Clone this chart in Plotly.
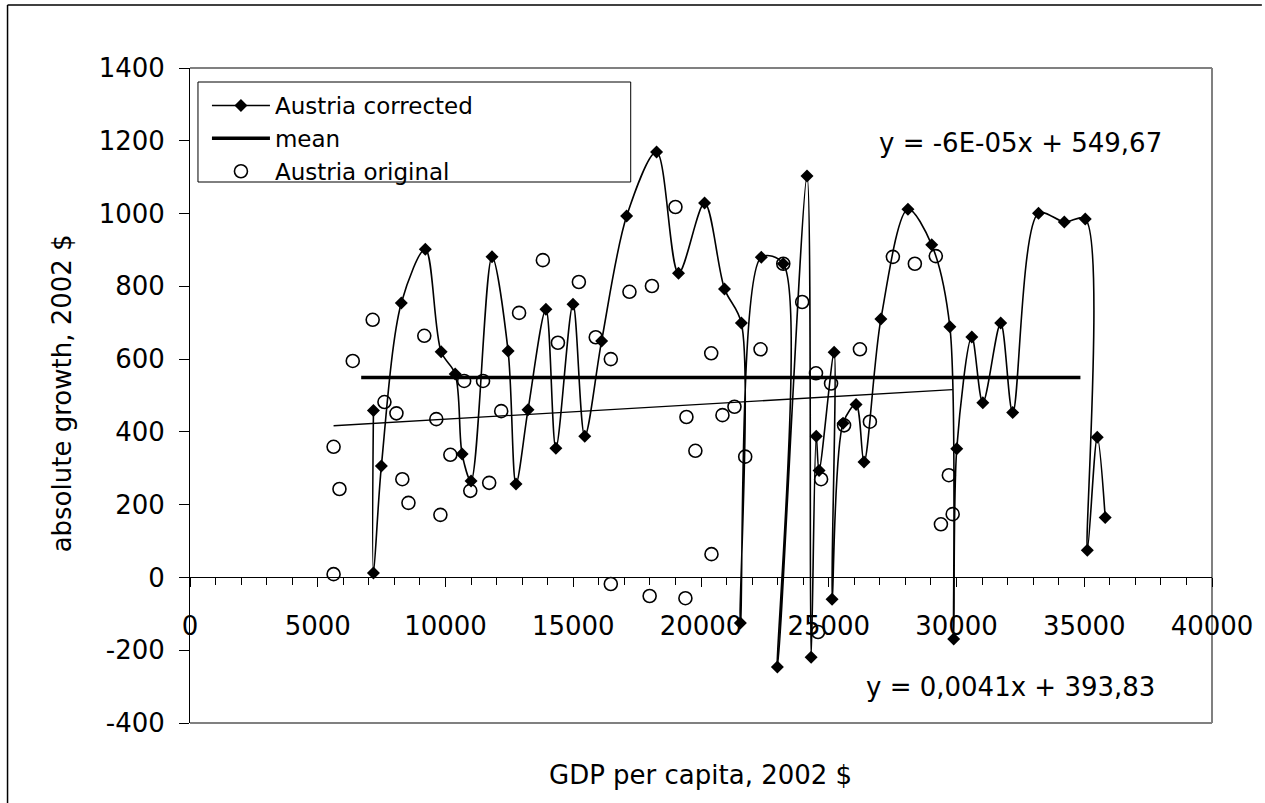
import plotly.graph_objects as go

# ---------------- data ----------------
corr_x = [7180, 7180, 7490, 8270, 9210, 9830, 10380, 10650, 11000, 11820, 12450, 12760,
          13230, 13930, 14320, 14990, 15450, 16110, 17090, 18260, 19120, 20140, 20920,
          21580, 21540, 22360, 23220, 22990, 24150, 24310, 24510, 24620, 25210, 25130,
          25560, 26070, 26380, 27040, 28100, 29030, 29740, 29890, 30010, 30600, 31030,
          31730, 32200, 33210, 34220, 35040, 35120, 35510, 35820]
corr_y = [459, 12, 306, 754, 902, 620, 559, 339, 265, 881, 622, 257,
          461, 737, 355, 751, 388, 650, 993, 1169, 836, 1029, 793,
          699, -125, 880, 862, -246, 1103, -219, 388, 294, 619, -60,
          424, 475, 317, 710, 1012, 914, 689, -169, 354, 661, 480,
          699, 453, 1001, 977, 985, 75, 385, 165]

orig_x = [5620, 5850, 5620, 6370, 7150, 7610, 8080, 8310, 8550, 9170, 9640, 9800,
          10190, 10730, 10970, 11470, 11710, 12180, 12880, 13810, 14400, 15220, 15880,
          16470, 16470, 17200, 17990, 18080, 19000, 19390, 19430, 19780, 20400, 20410,
          20840, 21310, 21730, 22330, 23220, 23960, 24500, 24580, 24700, 25090, 25600,
          26220, 26610, 27510, 28370, 29190, 29390, 29700, 29850]
orig_y = [359, 243, 9, 595, 708, 482, 451, 270, 205, 664, 435, 172,
          337, 540, 238, 540, 260, 457, 727, 872, 645, 812, 660,
          600, -18, 785, -51, 801, 1018, -57, 441, 348, 616, 64,
          446, 469, 332, 627, 862, 757, 561, -150, 270, 533, 418,
          627, 428, 881, 862, 883, 146, 281, 174]

mean_x = [6700, 34850]
mean_y = [549.67, 549.67]

# trend line of the original series, as printed on the chart
trend_slope = 0.0041
trend_intercept = 393.83
trend_x = [min(orig_x), max(orig_x)]
trend_y = [trend_slope * v + trend_intercept for v in trend_x]

x_ticks = [0, 5000, 10000, 15000, 20000, 25000, 30000, 35000, 40000]
x_labels = ["0", "5000", "10000", "15000", "20000", "25000", "30000", "35000", "40000"]
y_ticks = [-400, -200, 0, 200, 400, 600, 800, 1000, 1200, 1400]
y_labels = ["-400", "-200", "0", "200", "400", "600", "800", "1000", "1200", "1400"]

eq_corr = "y = -6E-05x + 549,67"
eq_orig = "y = 0,0041x + 393,83"

x_title = "GDP per capita, 2002 $"
y_title = "absolute growth, 2002 $"

# ---------------- figure ----------------
FONT = "DejaVu Sans"
FS = 26

fig = go.Figure()

fig.add_trace(go.Scatter(
    x=corr_x, y=corr_y, name="Austria corrected", mode="lines+markers",
    line=dict(color="black", width=1.6, shape="spline", smoothing=0.9),
    marker=dict(symbol="diamond", size=10, color="black"),
))
fig.add_trace(go.Scatter(
    x=mean_x, y=mean_y, name="mean", mode="lines",
    line=dict(color="black", width=3.5),
))
fig.add_trace(go.Scatter(
    x=orig_x, y=orig_y, name="Austria original", mode="markers",
    marker=dict(symbol="circle-open", size=13, color="black", line=dict(width=1.6)),
))
fig.add_trace(go.Scatter(
    x=trend_x, y=trend_y, name="Linear (Austria original)", mode="lines",
    line=dict(color="black", width=1.3), showlegend=False,
))

L, R, T, B = 190, 50, 68, 80
W, H = 1265, 803
pw, ph = W - L - R, H - T - B


def px2x(px):
    return (px - L) / pw


def py2y(py):
    return (H - B - py) / ph


fig.update_layout(
    width=W, height=H,
    margin=dict(l=L, r=R, t=T, b=B, pad=0),
    paper_bgcolor="white", plot_bgcolor="white",
    font=dict(family=FONT, size=FS, color="black"),
    showlegend=True,
    legend=dict(
        x=px2x(207), y=py2y(84), xanchor="left", yanchor="top",
        bgcolor="rgba(0,0,0,0)", borderwidth=0,
        font=dict(family=FONT, size=23, color="black"),
        itemwidth=58, tracegroupgap=0,
    ),
    xaxis=dict(
        range=[0, 40000], tickmode="array", tickvals=x_ticks, ticktext=x_labels,
        anchor="free", position=400 / 1800,
        showline=True, linecolor="black", linewidth=1,
        ticks="outside", ticklen=9, tickcolor="black", tickwidth=1,
        minor=dict(dtick=1000, tick0=0, ticks="outside", ticklen=7, tickcolor="black", tickwidth=1, showgrid=False),
        showgrid=False, zeroline=False,
        tickfont=dict(family=FONT, size=FS, color="black"),
        ticklabelstandoff=16,
    ),
    yaxis=dict(
        range=[-400, 1400], tickmode="array", tickvals=y_ticks, ticktext=y_labels,
        showline=True, linecolor="black", linewidth=1,
        ticks="outside", ticklen=10, tickcolor="black", tickwidth=1,
        showgrid=False, zeroline=False,
        tickfont=dict(family=FONT, size=FS, color="black"),
        ticklabelstandoff=9,
    ),
)

shapes = []
# plot area frame (gray) top, right, bottom
for (x0, y0, x1, y1) in [(0, 1, 1, 1), (1, 0, 1, 1), (0, 0, 1, 0)]:
    shapes.append(dict(type="line", xref="paper", yref="paper", x0=x0, y0=y0, x1=x1, y1=y1,
                       line=dict(color="#808080", width=2), layer="below"))
# legend box
shapes.append(dict(type="rect", xref="paper", yref="paper",
                   x0=px2x(198), x1=px2x(632), y0=py2y(182), y1=py2y(82),
                   line=dict(color="black", width=1), fillcolor="rgba(0,0,0,0)", layer="above"))
# outer chart frame (top and left edges visible)
shapes.append(dict(type="line", xref="paper", yref="paper", x0=px2x(7), y0=py2y(5), x1=px2x(1265), y1=py2y(5),
                   line=dict(color="black", width=1.5)))
shapes.append(dict(type="line", xref="paper", yref="paper", x0=px2x(7), y0=py2y(5), x1=px2x(7), y1=py2y(803),
                   line=dict(color="black", width=1.5)))
fig.update_layout(shapes=shapes)

fig.add_annotation(text=x_title, xref="paper", yref="paper", x=px2x(702), y=py2y(775),
                   xanchor="center", yanchor="middle", showarrow=False, font=dict(family=FONT, size=FS))
fig.add_annotation(text=y_title, xref="paper", yref="paper", x=px2x(62), y=py2y(393),
                   xanchor="center", yanchor="middle", textangle=-90, showarrow=False,
                   font=dict(family=FONT, size=FS))
fig.add_annotation(text=eq_corr, xref="paper", yref="paper", x=px2x(1023), y=py2y(143),
                   xanchor="center", yanchor="middle", showarrow=False, font=dict(family=FONT, size=FS))
fig.add_annotation(text=eq_orig, xref="paper", yref="paper", x=px2x(1013), y=py2y(687),
                   xanchor="center", yanchor="middle", showarrow=False, font=dict(family=FONT, size=FS))

fig.write_html("out.html", config={"displayModeBar": False},
               post_script="document.body.style.margin='0';")
